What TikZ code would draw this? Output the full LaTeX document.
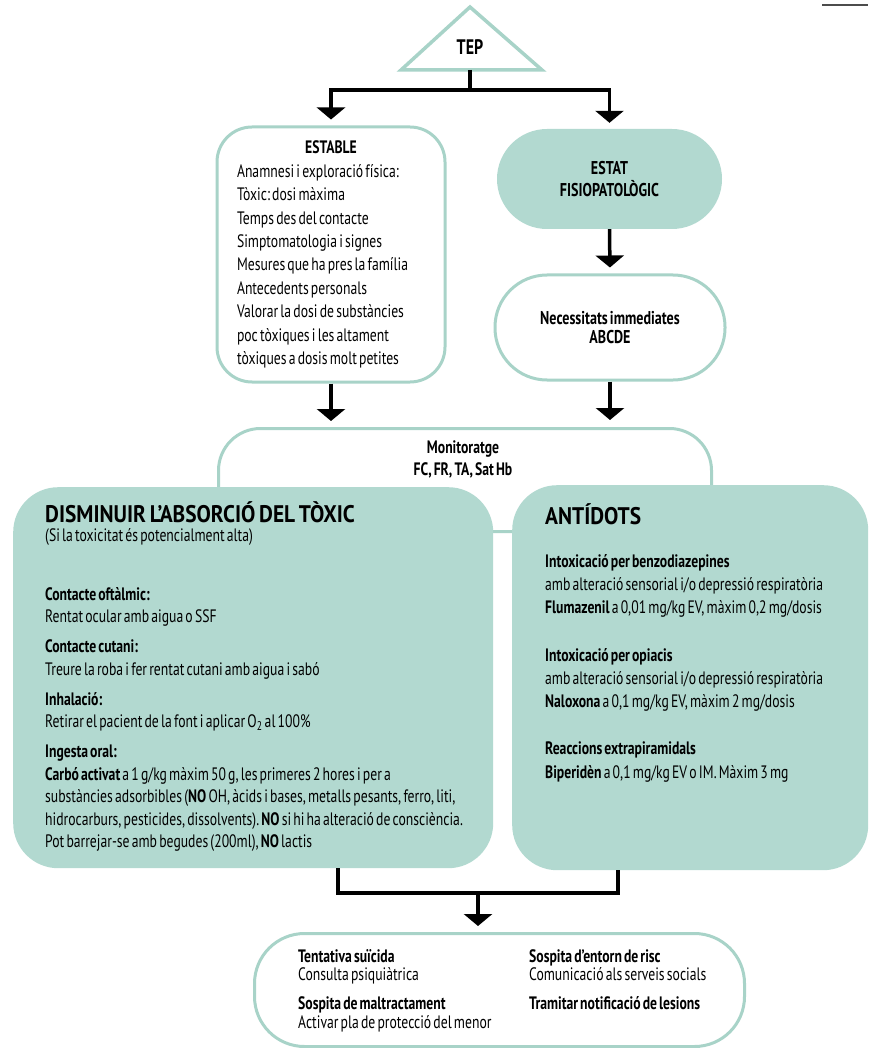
\documentclass[tikz,border=0pt]{standalone}
\usepackage{fontspec}
\setmainfont{PT Sans}[FakeStretch=0.76, WordSpace=0.6]
\newfontfamily\titlefont{PT Sans}[FakeStretch=0.89, WordSpace=0.7]
\usepackage{tikz}
\usetikzlibrary{arrows.meta}
\definecolor{tealc}{RGB}{178,217,208}
\definecolor{tealline}{RGB}{168,211,200}
\tikzset{
  wbox/.style={draw=tealline, line width=3pt, fill=white},
  gbox/.style={fill=tealc},
  flow/.style={line width=3.5pt, black},
  arr/.style={flow, -{Triangle[width=28pt,length=12pt]}},
  txt/.style={inner sep=0pt, align=left, anchor=north west},
  headtxt/.style={txt, font=\fontsize{24}{23}\titlefont\bfseries}
}

\begin{document}
\frenchspacing
\begin{tikzpicture}[x=1pt, y=-1pt, font=\fontsize{18}{22.5}\selectfont]
  \useasboundingbox (0,0) rectangle (870,1048);
  \draw[line width=1.5pt, black!70] (822,5) -- (868,5);

  \draw[draw=tealline, line width=3.5pt] (470,7) -- (542,70) -- (401,70) -- cycle;
  \node[font=\fontsize{21}{22}\selectfont\bfseries] (tep) at (470,47) {TEP};
  \coordinate (tepb) at (470,70);
  \coordinate (split) at (470,90);

  \node[wbox, rounded corners=35pt, minimum width=228pt, minimum height=255pt,
        align=left, font=\fontsize{18}{23.4}\selectfont] (estable) at (331,254.5)
    {\makebox[188pt]{\bfseries ESTABLE}\\
     Anamnesi i exploració física:\\
     Tòxic: dosi màxima\\
     Temps des del contacte\\
     Simptomatologia i signes\\
     Mesures que ha pres la família\\
     Antecedents personals\\
     Valorar la dosi de substàncies\\
     poc tòxiques i les altament\\
     tòxiques a dosis molt petites};

  \node[gbox, rounded corners=50pt, minimum width=225pt, minimum height=100pt, align=center,
        font=\fontsize{18.5}{22}\selectfont\bfseries] (estat) at (609.5,179) {ESTAT\\FISIOPATOLÒGIC};

  \node[wbox, rounded corners=52pt, minimum width=230pt, minimum height=105pt, align=center,
        font=\fontsize{18.5}{19}\selectfont\bfseries] (necess) at (610,327.5) {Necessitats immediates\\ABCDE};

  \node[wbox, rounded corners=42pt, minimum width=493pt, minimum height=103pt, anchor=north west] (monitor) at (217,427) {};
  \node[align=center, inner sep=0pt, font=\fontsize{18}{22}\selectfont\bfseries] (montxt) at (463,459) {Monitoratge\\FC, FR, TA, Sat Hb};

  \node[gbox, rounded corners=45pt, minimum width=480pt, minimum height=381pt, anchor=north west] (absor) at (13,487) {};
  \node[gbox, rounded corners=45pt, minimum width=356pt, minimum height=385pt, anchor=north west] (antid) at (512,485) {};

  \node[headtxt] (absortit) at (45,501) {DISMINUIR L’ABSORCIÓ DEL TÒXIC};
  \node[txt] (absorsub) at (45,528) {(Si la toxicitat és potencialment alta)};
  \node[txt] (absorbody) at (45,587)
    {\textbf{Contacte oftàlmic:}\\
     Rentat ocular amb aigua o SSF\\[7.5pt]
     \textbf{Contacte cutani:}\\
     Treure la roba i fer rentat cutani amb aigua i sabó\\[7.5pt]
     \textbf{Inhalació:}\\
     Retirar el pacient de la font i aplicar O\textsubscript{2} al 100\%\\[7.5pt]
     \textbf{Ingesta oral:}\\
     \textbf{Carbó activat} a 1 g/kg màxim 50 g, les primeres 2 hores i per a\\
     substàncies adsorbibles (\textbf{NO} OH, àcids i bases, metalls pesants, ferro, liti,\\
     hidrocarburs, pesticides, dissolvents). \textbf{NO} si hi ha alteració de consciència.\\
     Pot barrejar-se amb begudes (200ml), \textbf{NO} lactis};

  \node[headtxt] (antidtit) at (545,503) {ANTÍDOTS};
  \node[txt, font=\fontsize{18}{23.3}\selectfont] (antidbody) at (545,554)
    {\textbf{Intoxicació per benzodiazepines}\\
     amb alteració sensorial i/o depressió respiratòria\\
     \textbf{Flumazenil} a 0,01 mg/kg EV, màxim 0,2 mg/dosis\\[24pt]
     \textbf{Intoxicació per opiacis}\\
     amb alteració sensorial i/o depressió respiratòria\\
     \textbf{Naloxona} a 0,1 mg/kg EV, màxim 2 mg/dosis\\[24pt]
     \textbf{Reaccions extrapiramidals}\\
     \textbf{Biperidèn} a 0,1 mg/kg EV o IM. Màxim 3 mg};

  \node[wbox, rounded corners=50pt, minimum width=490pt, minimum height=113pt, anchor=north west] (final) at (253,932) {};
  \node[txt, font=\fontsize{18}{18.5}\selectfont] (finall) at (298,949)
    {\textbf{Tentativa suïcida}\\
     Consulta psiquiàtrica\\[10.5pt]
     \textbf{Sospita de maltractament}\\
     Activar pla de protecció del menor};
  \node[txt, font=\fontsize{18}{18.5}\selectfont] (finalr) at (529,949)
    {\textbf{Sospita d’entorn de risc}\\
     Comunicació als serveis socials\\[10.5pt]
     \textbf{Tramitar notificació de lesions}};

  \draw[flow] (tepb) -- (split);
  \draw[arr, shorten >=6pt] (split) -| (estable.north);
  \draw[arr, shorten >=6pt] (split) -| (estat.north);
  \draw[arr, shorten >=6pt] (estable.south) -- (estable.south |- monitor.north);
  \draw[arr, shorten >=6pt] (estat.south) -- (necess.north);
  \draw[arr, shorten >=7pt] (necess.south) -- (necess.south |- monitor.north);

  \coordinate (jl) at (338,893);
  \coordinate (jr) at (618,893);
  \coordinate (jm) at (478,893);
  \draw[flow] (jl |- absor.south) -- (jl) -- (jr) -- (jr |- antid.south);
  \draw[arr, shorten >=6pt] (jm) -- (jm |- final.north);
\end{tikzpicture}
\end{document}
